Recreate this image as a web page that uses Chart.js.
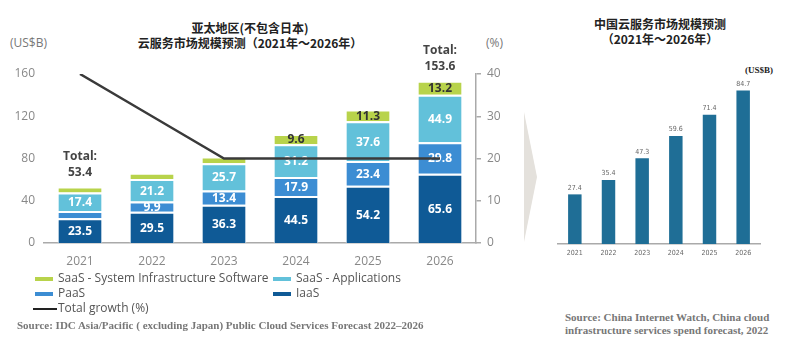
<!DOCTYPE html>
<html>
<head>
<meta charset="utf-8">
<script src="https://cdn.jsdelivr.net/npm/chart.js@4.4.1/dist/chart.umd.min.js"></script>
<style>
  body { margin: 0; background: #fff; width: 800px; height: 345px; position: relative; overflow: hidden; font-family: "Open Sans", sans-serif; }
  .abs { position: absolute; }
  .title { font-family: "Noto Sans CJK SC", sans-serif; font-weight: 700; color: #222; font-size: 12px; text-align: center; line-height: 15px; }
  .unit { color: #777; font-size: 12px; }
  .legend { font-size: 12px; color: #555; line-height: 15px; }
  .legend span.key { display: inline-block; width: 18px; height: 4px; vertical-align: middle; margin-right: 5px; }
  .source { font-family: "Liberation Serif", "DejaVu Serif", serif; font-weight: 700; color: #777; font-size: 11px; line-height: 13px; }
  .chev { left: 524px; top: 112px; width: 13px; height: 130px; background: #e4e1dc; clip-path: polygon(0 0, 100% 50%, 0 100%); }
</style>
</head>
<body>
<div class="abs title" style="left:100px; top:20px; width:300px;">亚太地区(不包含日本)<br>云服务市场规模预测（2021年～2026年）</div>
<div class="abs unit" style="left:10px; top:34px;">(US$B)</div>
<div class="abs unit" style="left:486px; top:34px;">(%)</div>
<canvas id="apacChart" class="abs" style="left:0; top:0;" width="520" height="270"></canvas>

<div class="abs legend" style="left:35px; top:270px;">
  <div><span class="key" style="background:#b8d34b"></span>SaaS - System Infrastructure Software</div>
  <div><span class="key" style="background:#3c8dd3"></span>PaaS</div>
  <div><span class="key" style="background:#222; height:2px; width:24px; margin-left:-2px; margin-right:1px"></span>Total growth (%)</div>
</div>
<div class="abs legend" style="left:273px; top:270px;">
  <div><span class="key" style="background:#62c1da"></span>SaaS - Applications</div>
  <div><span class="key" style="background:#0f5a96"></span>IaaS</div>
</div>
<div class="abs source" style="left:17px; top:319px;">Source: IDC Asia/Pacific ( excluding Japan) Public Cloud Services Forecast 2022–2026</div>

<div class="abs chev"></div>

<div class="abs title" style="left:560px; top:16px; width:200px;">中国云服务市场规模预测<br>（2021年～2026年）</div>
<div class="abs source" style="left:745px; top:64px; color:#222; font-size:9px;">(US$B)</div>
<canvas id="chinaChart" class="abs" style="left:540px; top:60px;" width="240" height="210"></canvas>
<div class="abs source" style="left:565px; top:311px;">Source: China Internet Watch, China cloud<br>infrastructure services spend forecast, 2022</div>

<script>
// APAC (excl. Japan) public cloud, US$B
const years = ["2021", "2022", "2023", "2024", "2025", "2026"];
const iaas = [23.5, 29.5, 36.3, 44.5, 54.2, 65.6];
const paas = [6.8, 9.9, 13.4, 17.9, 23.4, 29.8];
const saasApps = [17.4, 21.2, 25.7, 31.2, 37.6, 44.9];
const saasSys = [5.7, 6.0, 6.5, 9.6, 11.3, 13.2];
const growth = [40, 30, 20, 20, 20, 20];
const totalLabels = ["53.4", "", "", "", "", "153.6"];
const usdTicks = [0, 40, 80, 120, 160];
const pctTicks = [0, 10, 20, 30, 40];

// China cloud infrastructure, US$B
const chinaSpend = [27.4, 35.4, 47.3, 59.6, 71.4, 84.7];

// draw numbers inside the stacked segments (only the big enough ones)
const segLabels = {
  id: "segLabels",
  afterDatasetDraw(chart, args) {
    const ds = chart.data.datasets[args.index];
    if (!ds.labelColor) return;
    const ctx = chart.ctx;
    ctx.save();
    ctx.font = "bold 12px 'Open Sans'";
    ctx.fillStyle = ds.labelColor;
    ctx.textAlign = "center";
    ctx.textBaseline = "middle";
    args.meta.data.forEach(function (bar, i) {
      const v = ds.data[i];
      if (v < 9) return;
      ctx.fillText(v.toFixed(1), bar.x, (bar.y + bar.base) / 2 + 1);
    });
    ctx.restore();
  },
  afterDraw(chart) {
    const top = chart.getDatasetMeta(3).data;
    const ctx = chart.ctx;
    ctx.save();
    ctx.font = "bold 12px 'Open Sans'";
    ctx.fillStyle = "#444";
    ctx.textAlign = "center";
    ctx.textBaseline = "middle";
    totalLabels.forEach(function (t, i) {
      if (!t) return;
      ctx.fillText("Total:", top[i].x, top[i].y - 30);
      ctx.fillText(t, top[i].x, top[i].y - 14);
    });
    ctx.restore();
  }
};

const tickFont = { family: "'Open Sans'", size: 12 };

new Chart(document.getElementById("apacChart"), {
  type: "bar",
  data: {
    labels: years,
    datasets: [
      { label: "IaaS", data: iaas, backgroundColor: "#0f5a96", labelColor: "#fff", order: 1 },
      { label: "PaaS", data: paas, backgroundColor: "#3c8dd3", labelColor: "#fff", order: 1 },
      { label: "SaaS - Applications", data: saasApps, backgroundColor: "#62c1da", labelColor: "#fff", order: 1 },
      { label: "SaaS - System Infrastructure Software", data: saasSys, backgroundColor: "#b8d34b", labelColor: "#333", order: 1 },
      {
        type: "line", label: "Total growth (%)", data: growth, yAxisID: "y1",
        borderColor: "#3a3a3a", borderWidth: 2.5, pointRadius: 0, tension: 0, order: 0
      }
    ]
  },
  options: {
    responsive: false,
    animation: false,
    layout: { padding: { top: 74, left: 0, right: 0, bottom: 0 } },
    datasets: {
      bar: {
        categoryPercentage: 1, barPercentage: 0.62,
        borderColor: "#fff", borderWidth: { top: 2, left: 1, right: 1 }, borderSkipped: "bottom"
      }
    },
    plugins: { legend: { display: false }, tooltip: { enabled: false } },
    scales: {
      x: {
        stacked: true,
        grid: { display: false, drawTicks: false },
        border: { display: true, color: "#aaa", width: 1.5 },
        ticks: { color: "#888", font: tickFont, padding: 11 },
        afterFit: function (s) { s.height = 27; }
      },
      y: {
        stacked: true, min: 0, max: 160,
        afterBuildTicks: function (s) { s.ticks = usdTicks.map(v => ({ value: v })); },
        grid: { display: false, drawTicks: false },
        border: { display: false },
        ticks: { color: "#888", font: tickFont, padding: 9 },
        afterFit: function (s) { s.width = 44; }
      },
      y1: {
        position: "right", min: 0, max: 40,
        afterBuildTicks: function (s) { s.ticks = pctTicks.map(v => ({ value: v })); },
        grid: { display: true, drawOnChartArea: false, drawTicks: true, tickLength: 5, color: "#aaa", lineWidth: 1.5 },
        border: { display: true, color: "#aaa", width: 1.5 },
        ticks: { color: "#888", font: tickFont, padding: 6 },
        afterFit: function (s) { s.width = 44; }
      }
    }
  },
  plugins: [segLabels]
});

// small value labels on top of the China bars
const topValues = {
  id: "topValues",
  afterDatasetsDraw(chart) {
    const ctx = chart.ctx;
    const meta = chart.getDatasetMeta(0);
    ctx.save();
    ctx.font = "7px 'Liberation Sans Narrow', 'DejaVu Sans Condensed', sans-serif";
    ctx.fillStyle = "#666";
    ctx.textAlign = "center";
    ctx.textBaseline = "bottom";
    meta.data.forEach(function (bar, i) {
      ctx.fillText(chinaSpend[i].toFixed(1), bar.x, bar.y - 3);
    });
    ctx.restore();
  }
};

new Chart(document.getElementById("chinaChart"), {
  type: "bar",
  data: {
    labels: years,
    datasets: [{ data: chinaSpend, backgroundColor: "#1f6e96", categoryPercentage: 1, barPercentage: 0.4 }]
  },
  options: {
    responsive: false,
    animation: false,
    layout: { padding: { top: 21, left: 18, right: 20, bottom: 0 } },
    plugins: { legend: { display: false }, tooltip: { enabled: false } },
    scales: {
      x: {
        grid: { display: false, drawTicks: false },
        border: { display: true, color: "#aaa", width: 1.5 },
        ticks: { color: "#666", font: { family: "'Liberation Sans Narrow', 'DejaVu Sans Condensed', sans-serif", size: 7 }, padding: 5 },
        afterFit: function (s) { s.height = 26; }
      },
      y: { display: false, min: 0, max: 90 }
    }
  },
  plugins: [topValues]
});
</script>
</body>
</html>
